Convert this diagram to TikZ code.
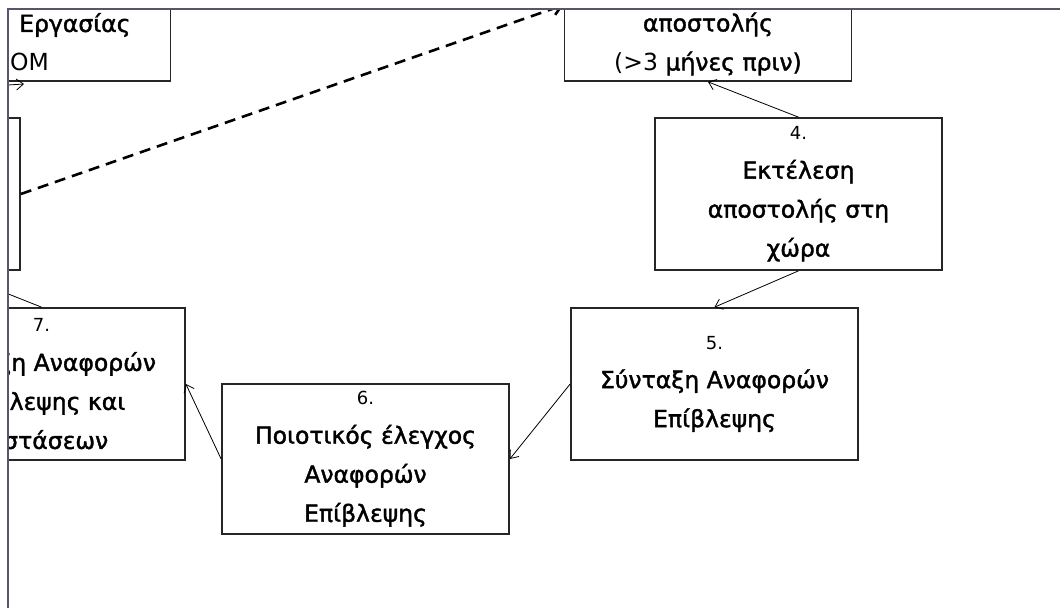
\documentclass[tikz,border=0pt]{standalone}
\usepackage{fontspec}
\setmainfont{DejaVu Sans}[BoldFont=DejaVu Sans, BoldFeatures={FakeBold=1.6}]
\usetikzlibrary{arrows.meta}
\definecolor{framegrey}{RGB}{85,85,110}
\tikzset{
  stage/.style={draw=black!85, line width=1.7pt, minimum width=287pt, minimum height=152pt,
    align=center, inner sep=0pt, font=\fontsize{23.5}{39}\selectfont\bfseries},
  words/.style={inner sep=0pt, align=center, font=\fontsize{23.5}{39}\selectfont\bfseries},
  flow/.style={-{Straight Barb[length=7pt,width=11pt]}, line width=0.8pt},
  jump/.style={-{Straight Barb[length=9pt,width=13pt]}, line width=2.6pt, dash pattern=on 11pt off 7pt},
}
\newcommand{\stagenum}[1]{{\fontsize{18}{20}\selectfont\mdseries #1}}

\begin{document}
\begin{tikzpicture}[x=1pt,y=-1pt]
\useasboundingbox (0,0) rectangle (1060,608);
\begin{scope}
\clip (8,9) rectangle (1060,608);
% boxes, some cut off by the frame
\node[stage] (plan) at (27,5) {};
\node[words, anchor=west] (plantxt) at (19,25) {Εργασίας};
\node[words, anchor=west, font=\fontsize{23.5}{39}\selectfont] (plancode) at (10,62) {OM};
\node[stage] (brief) at (-123.5,194) {};
\node[stage] (prep) at (708,5) {};
\node[words] (preptxt) at (708,44) {αποστολής\\{\mdseries(>3} μήνες πριν)};
\node[stage] (mission) at (798.5,194) {\stagenum{4.}\\Εκτέλεση\\αποστολής στη\\χώρα};
\node[stage] (draft) at (714.5,384) {\stagenum{5.}\\Σύνταξη Αναφορών\\Επίβλεψης};
\node[stage, minimum height=150pt] (check) at (365.5,459) {\stagenum{6.}\\Ποιοτικός έλεγχος\\Αναφορών\\Επίβλεψης};
\node[stage] (review) at (41.5,384) {\stagenum{7.}\\Σύνταξη Αναφορών\\Επίβλεψης και\\Συστάσεων};
% connectors
\coordinate (inA) at (-40,88);
\coordinate (tipA) at (24,84);
\coordinate (toB) at (-52,270);
\draw[flow] (inA) -- (tipA);
\draw[jump] (brief.east) -- (prep.west);
\draw[flow] (mission.north) -- (prep.south);
\draw[flow] (mission.south) -- (draft.north);
\draw[flow] (draft.west) -- (check.east);
\draw[flow] (check.west) -- (review.east);
\draw[flow] (review.north) -- (toB);
\end{scope}
\draw[framegrey, line width=1.3pt] (8,608) -- (8,9) -- (1060,9);
\end{tikzpicture}
\end{document}
